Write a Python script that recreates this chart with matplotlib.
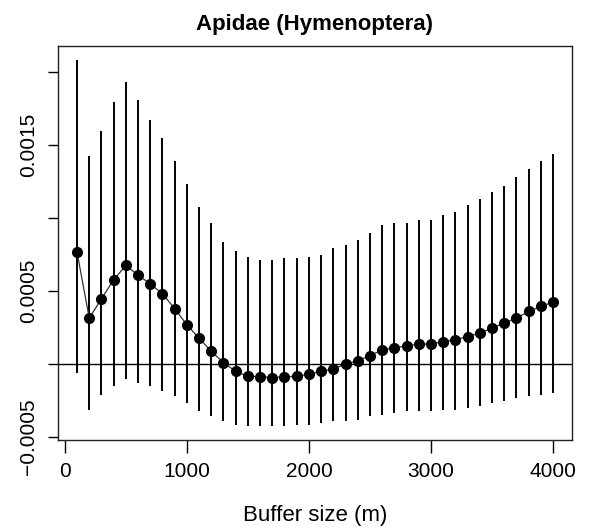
import matplotlib
matplotlib.use("Agg")
import matplotlib.pyplot as plt

plt.rcParams['font.family'] = ['Liberation Sans', 'DejaVu Sans']

buffer_size = [100, 200, 300, 400, 500, 600, 700, 800, 900, 1000,
               1100, 1200, 1300, 1400, 1500, 1600, 1700, 1800, 1900, 2000,
               2100, 2200, 2300, 2400, 2500, 2600, 2700, 2800, 2900, 3000,
               3100, 3200, 3300, 3400, 3500, 3600, 3700, 3800, 3900, 4000]

estimate = [0.000767, 0.000315, 0.000447, 0.000578, 0.000676, 0.000610, 0.000550, 0.000482, 0.000381, 0.000269,
            0.000178, 0.000087, 0.000011, -0.000050, -0.000084, -0.000086, -0.000092, -0.000086, -0.000084, -0.000070,
            -0.000050, -0.000034, 0.000000, 0.000023, 0.000057, 0.000098, 0.000110, 0.000126, 0.000137, 0.000137,
            0.000155, 0.000167, 0.000189, 0.000212, 0.000247, 0.000281, 0.000315, 0.000361, 0.000395, 0.000425]

upper = [0.002084, 0.001427, 0.001598, 0.001799, 0.001936, 0.001810, 0.001673, 0.001552, 0.001393, 0.001233,
         0.001075, 0.000966, 0.000840, 0.000772, 0.000737, 0.000715, 0.000715, 0.000726, 0.000726, 0.000737,
         0.000749, 0.000795, 0.000817, 0.000852, 0.000897, 0.000954, 0.000966, 0.000966, 0.000989, 0.000989,
         0.001023, 0.001041, 0.001091, 0.001132, 0.001178, 0.001224, 0.001285, 0.001338, 0.001393, 0.001438]

lower = [-0.000062, -0.000313, -0.000210, -0.000153, -0.000100, -0.000130, -0.000153, -0.000187, -0.000221, -0.000267,
         -0.000324, -0.000358, -0.000393, -0.000416, -0.000427, -0.000427, -0.000427, -0.000422, -0.000416, -0.000416,
         -0.000404, -0.000393, -0.000393, -0.000381, -0.000358, -0.000347, -0.000336, -0.000324, -0.000324, -0.000324,
         -0.000313, -0.000313, -0.000301, -0.000290, -0.000267, -0.000256, -0.000233, -0.000221, -0.000210, -0.000199]

x_ticks = [0, 1000, 2000, 3000, 4000]
x_tick_labels = ["0", "1000", "2000", "3000", "4000"]
y_ticks = [-0.0005, 0.0, 0.0005, 0.0010, 0.0015, 0.0020]
y_tick_labels = ["-0.0005", "", "0.0005", "", "0.0015", ""]

W, H = 589, 528
fig = plt.figure(figsize=(W / 100, H / 100), dpi=100)
left, right, top, bottom = 58, 572, 46, 440
ax = fig.add_axes([left / W, 1 - bottom / H, (right - left) / W, (bottom - top) / H])

ax.vlines(buffer_size, lower, upper, color='black', linewidth=1.4)
ax.axhline(0, color='black', linewidth=1.0)
ax.plot(buffer_size, estimate, '-', color='#333333', linewidth=0.9)
ax.plot(buffer_size, estimate, 'o', color='black', markersize=7)

ax.set_xlim(-56, 4156)
ax.set_ylim(-0.00052, 0.00218)

ax.set_xticks(x_ticks)
ax.set_xticklabels(x_tick_labels, fontsize=15)
ax.set_yticks(y_ticks)
ax.set_yticklabels([t.replace('-', '\u2212') for t in y_tick_labels], fontsize=15,
                   rotation=90, va='center')
ax.tick_params(axis='x', direction='out', length=9, width=1.0, pad=7, colors='black')
ax.tick_params(axis='y', direction='out', length=7, width=1.0, pad=7.5, colors='black')

for s in ax.spines.values():
    s.set_linewidth(1.0)
    s.set_color('#222222')

ax.set_title("Apidae (Hymenoptera)", fontsize=16, fontweight='bold', pad=11.5)
ax.set_xlabel("Buffer size (m)", fontsize=16, va='center')
ax.xaxis.set_label_coords(0.5, (bottom - 515) / (bottom - top))

fig.savefig("out.png", dpi=100)
